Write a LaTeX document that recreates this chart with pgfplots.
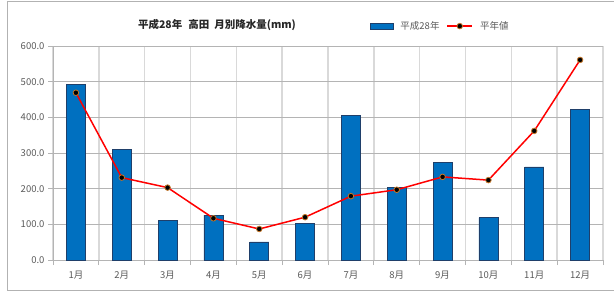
\documentclass[border=0pt]{standalone}
\usepackage{fontspec}
\setmainfont{Noto Sans CJK JP}
\usepackage{pgfplots}
\pgfplotsset{compat=1.18}
\definecolor{barblue}{HTML}{0070C0}
\definecolor{baredge}{HTML}{1F3F6A}
\definecolor{vgrid}{HTML}{D9D9D9}
\definecolor{hgrid}{HTML}{B4B4B4}
\definecolor{txtgray}{HTML}{595959}
\definecolor{mkedge}{HTML}{C5772A}
\pgfplotsset{
  barlegend/.style={legend image code/.code={\draw[fill=barblue, draw=baredge] (0pt,-3pt) rectangle (23pt,3pt);}},
  linelegend/.style={legend image code/.code={\draw[##1, mark repeat=2, mark phase=2] plot coordinates {(0pt,0pt) (12.5pt,0pt) (25pt,0pt)};}},
}
\pgfplotstableread{
m  obs   norm
1  493   469
2  310   231
3  110   203
4  126   117
5  50.5  87
6  103   120
7  406   179
8  203   197
9  274   233
10 119   224
11 261   362
12 422   561
}\datatable
\begin{document}
\begin{tikzpicture}
\useasboundingbox (0pt,0pt) rectangle (614pt,293pt);
\draw[gray!60, line width=0.9pt] (7pt,3pt) rectangle (625pt,292pt);
\node[font=\bfseries\fontsize{10.5}{12}\selectfont, text=black!85] at (217pt,268pt) {平成28年\hspace{6pt}高田\hspace{5pt}月別降水量(mm)};
\begin{axis}[
  at={(53pt,33pt)}, anchor=south west,
  scale only axis, width=550pt, height=214pt,
  xmin=0.5, xmax=12.5, ymin=0, ymax=600,
  xtick={1,...,12},
  xticklabels={1月,2月,3月,4月,5月,6月,7月,8月,9月,10月,11月,12月},
  minor xtick={0.5,1.5,...,12.5},
  ytick={0,100,...,600},
  xminorgrids, ymajorgrids,
  grid style={draw=hgrid, line width=0.8pt},
  minor grid style={draw=vgrid, line width=1.6pt},
  axis lines*=left,
  axis line style={draw=hgrid, line width=0.8pt, -},
  tick align=outside,
  major tick length=5pt, minor tick length=5pt,
  major x tick style={draw=none},
  tick style={draw=hgrid, line width=0.8pt},
  minor tick style={draw=hgrid, line width=0.8pt},
  ticklabel style={font=\fontsize{9.5}{10}\selectfont, text=txtgray},
  xticklabel style={yshift=-2pt},
  /pgf/number format/assume math mode=true,
  yticklabel style={/pgf/number format/.cd, fixed, fixed zerofill, precision=1},
  legend style={draw=none, fill=none, at={(0.704,1.093)}, anchor=center,
    font=\fontsize{9.5}{10}\selectfont, text=txtgray, column sep=5pt},
  legend columns=2,
  legend cell align=left,
]
\addplot[ybar, bar width=19pt, fill=barblue, draw=baredge, line width=0.6pt, barlegend]
  table[x=m, y=obs] {\datatable};
\addlegendentry{平成28年}
\addplot[red, line width=1.5pt, mark=*, mark size=2.8pt,
  mark options={fill=black, draw=mkedge, line width=0.8pt}, linelegend]
  table[x=m, y=norm] {\datatable};
\addlegendentry{平年値}
\end{axis}
\end{tikzpicture}
\end{document}
